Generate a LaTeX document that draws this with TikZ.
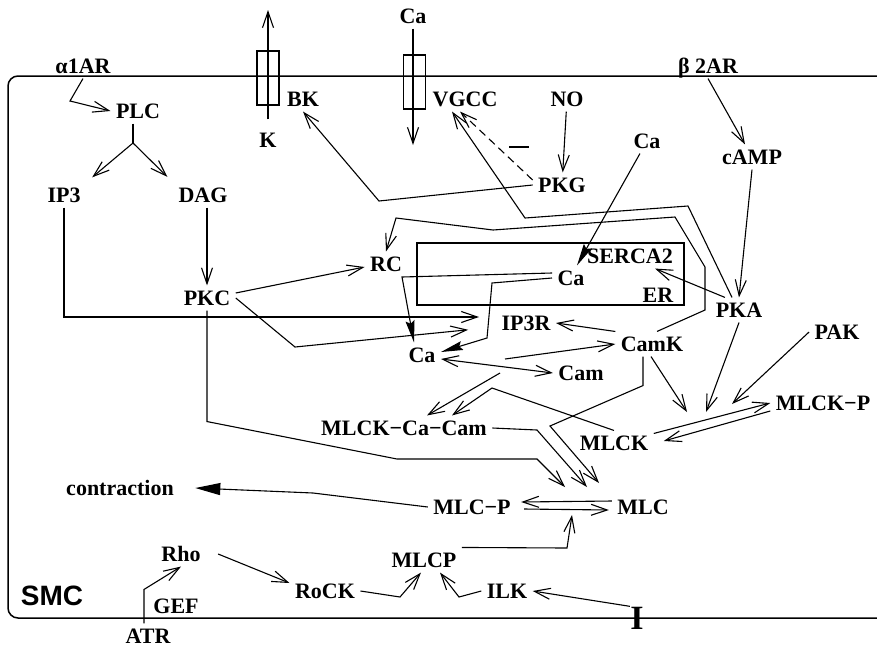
\documentclass[tikz,border=0pt]{standalone}
\usepackage{fontspec}
\setmainfont{Liberation Serif}
\setsansfont{Liberation Sans}
\usetikzlibrary{arrows.meta}

\begin{document}
\begin{tikzpicture}[x=1pt, y=-1pt, line width=1.1pt,
  >={Straight Barb[length=16pt,width=11pt]},
  lbl/.style={font=\fontsize{22}{24}\selectfont\bfseries, inner sep=5pt, text height=14pt, text depth=0pt},
  cafill/.style={-{Stealth[length=22pt,width=9pt,inset=3pt]}},
  chan/.style={draw, minimum width=22pt, minimum height=54pt, inner sep=0pt}]
  \useasboundingbox (0,0) rectangle (877,646);

  % Cell membrane and channels
  \draw[line width=1.5pt, rounded corners=10pt] (890,76) -- (8,76) -- (8,618) -- (890,618);
  \node[chan] (kchan) at (268,78) {};
  \node[chan] (vgccchan) at (414.5,82) {};
  \node[draw, minimum width=267pt, minimum height=62pt, inner sep=0pt] (erbox) at (550.5,274) {};

  % Labels
  \node[lbl] (a1ar) at (83,66) {α1AR};
  \node[lbl] (b2ar) at (708,66) {β 2AR};
  \node[lbl] (plc) at (138,111) {PLC};
  \node[lbl] (ip3) at (64,195) {IP3};
  \node[lbl] (dag) at (203,195) {DAG};
  \node[lbl] (pkc) at (207,298) {PKC};
  \node[lbl] (k) at (268,140) {K};
  \node[lbl] (bk) at (303,99) {BK};
  \node[lbl] (caout) at (413,16) {Ca};
  \node[lbl] (vgcc) at (465,99) {VGCC};
  \node[lbl] (no) at (567,99) {NO};
  \node[lbl] (pkg) at (562,185) {PKG};
  \node[lbl] (cacyt) at (647,141) {Ca};
  \node[lbl] (camp) at (752,157) {cAMP};
  \node[lbl] (pka) at (739,310) {PKA};
  \node[lbl] (rc) at (386,264) {RC};
  \node[lbl] (serca) at (630,256) {SERCA2};
  \node[lbl] (caer) at (571,278) {Ca};
  \node[lbl] (er) at (658,295) {ER};
  \node[lbl] (ip3r) at (526,323) {IP3R};
  \node[lbl] (ca) at (422,355) {Ca};
  \node[lbl] (camk) at (652,344) {CamK};
  \node[lbl] (cam) at (581,373) {Cam};
  \node[lbl] (pak) at (837,332) {PAK};
  \node[lbl] (mlckp) at (823,403) {MLCK−P};
  \node[lbl] (mlckcc) at (404,428) {MLCK−Ca−Cam};
  \node[lbl] (mlck) at (614,443) {MLCK};
  \node[lbl] (mlcphos) at (472,507) {MLC−P};
  \node[lbl] (mlc) at (643,507) {MLC};
  \node[lbl] (contr) at (120,488) {contraction};
  \node[lbl] (mlcpase) at (424,560) {MLCP};
  \node[lbl] (rho) at (181,554) {Rho};
  \node[lbl] (rock) at (325,591) {RoCK};
  \node[lbl] (ilk) at (507,591) {ILK};
  \node[lbl] (atr) at (148,636) {ATR};
  \node[lbl] (gef) at (176,606) {GEF};
  \node[font=\sffamily\fontsize{28}{30}\selectfont\bfseries] (smc) at (52,596) {SMC};
  \node[font=\fontsize{34}{34}\selectfont\bfseries, inner sep=0pt] (integ) at (637,618) {I};

  % Ion fluxes
  \coordinate (kout) at (268,10);
  \coordinate (cain) at (413,145);
  \draw[->] ([yshift=8pt]k.north) -- (kout);
  \draw[->] (caout) -- (cain);

  % alpha1 pathway
  \draw[->] (a1ar.south) -- (70,101) -- (plc.west);
  \coordinate (split) at (133,143);
  \draw (split |- plc.south) -- (split);
  \draw[->, shorten >=8pt] (split) -- (ip3.north east);
  \draw[->, shorten >=8pt] (split) -- (dag.north west);
  \draw[->] (dag.south -| pkc.north) -- (pkc.north);
  \draw[->, shorten >=17pt] (ip3.south) |- ([yshift=6pt]ip3r.west);
  \draw[->] ([yshift=5pt]pkc.east) -- ([yshift=-3pt]rc.west);
  \draw[->, shorten >=28pt] (pkc.east) -- (295,347) -- ([yshift=-4pt]ip3r.west);

  % Ca release from ER
  \draw[cafill] ([yshift=5pt]caer.west) -- (402,277) -- ([xshift=-8pt]ca.north);
  \draw[cafill] (caer.west) -- (492,283) -- (487,338) -- ([yshift=3pt]ca.east);
  \draw[cafill] (cacyt) -- ([xshift=6pt]caer.north);

  % beta2 / PKA
  \draw[->] (b2ar.south) -- ([xshift=-7pt]camp.north);
  \draw[->] (camp.south) -- (pka.north);
  \draw[->] ([xshift=-14pt]pka.north) -- ([xshift=25pt]serca.south);
  \draw[->] ([xshift=-7pt]pka.north) -- (688,206) -- (525,218) -- ([xshift=-13pt]vgcc.south);

  % NO / PKG
  \draw[->] (no) -- (pkg);
  \draw[->] (pkg.west) -- (379,201) -- (bk.south);
  \draw[->, dash pattern=on 8pt off 5pt] ([yshift=5pt]pkg.west) -- ([xshift=-5pt]vgcc.south);
  \draw[line width=2pt] (509,147) -- (529,147);

  % CamK
  \draw[->] ([xshift=5pt]camk.north) -- (705,310) -- (705,267) -- (675,217) -- (493,230) -- (396,218) -- (rc.north);
  \draw[->] (camk.north west) -- (ip3r.east);
  \coordinate (cacamup) at (505,359);
  \coordinate (cacamdn) at (500,373);
  \draw[->] (cacamup) -- (camk.west);
  \draw[<->] ([yshift=-4pt]ca.east) -- (cam.west);
  \draw[->] (cacamdn) -- ([xshift=23pt]mlckcc.north);
  \draw[->] (mlck.north) -- (492,388) -- ([xshift=48pt]mlckcc.north);

  % MLCK phosphorylation
  \coordinate (phosA) at (687,412);
  \coordinate (phosB) at (706,412);
  \coordinate (phosC) at (732,404);
  \draw[->] ([xshift=-1pt]camk.south) -- (phosA);
  \draw[->] (pka.south) -- (phosB);
  \draw[->] (pak.west) -- (phosC);
  \draw[->] ([yshift=-3pt]mlck.north east) -- (mlckp.west);
  \draw[->] ([yshift=-8pt]mlckp.west) -- ([xshift=10pt,yshift=2pt]mlck.east);

  % MLC phosphorylation
  \coordinate (mlcrxA) at (565,487);
  \coordinate (mlcrxB) at (587,487);
  \coordinate (mlcrxC) at (599,483);
  \coordinate (mlcrxD) at (572,515);
  \draw[->] (pkc.south) -- ++(0,111) -- (397,459) -- (537,459) -- (mlcrxA);
  \draw[->] (mlckcc.east) -- (537,430) -- (mlcrxB);
  \draw[->] ([xshift=-9pt]camk.south) -- ++(0,29) -- (550,426) -- (mlcrxC);
  \draw[->] ([yshift=6pt]mlc.west) -- ([xshift=5pt,yshift=5pt]mlcphos.east);
  \draw[->] ([xshift=8pt,yshift=-2pt]mlcphos.east) -- ([xshift=-3pt,yshift=-3pt]mlc.west);
  \draw[->] (mlcpase.north east) -- (567,548) -- (mlcrxD);
  \draw[-{Triangle[length=25pt,width=12pt]}] (mlcphos.west) -- (313,493) -- ([xshift=16pt]contr.east);

  % Rho pathway
  \draw[->] ([xshift=-4pt]atr.north) -- ++(0,-34) -- (rho.south);
  \draw[->] ([xshift=12pt]rho.east) -- ([yshift=8pt]rock.west);
  \draw[->] (rock.east) -- (400,597) -- ([xshift=-3pt]mlcpase.south);
  \draw[->] (ilk.west) -- (459,597) -- ([xshift=16pt]mlcpase.south);
  \draw[->] (integ.north west) -- (ilk.east);
\end{tikzpicture}
\end{document}
